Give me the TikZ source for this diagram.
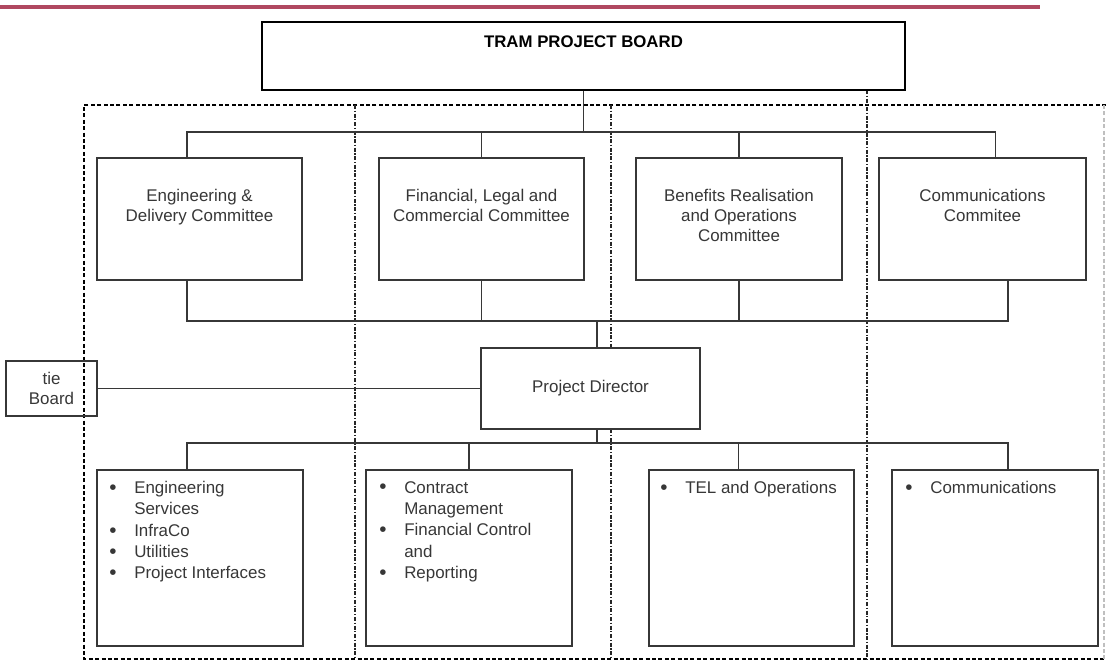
\documentclass[tikz,border=0pt]{standalone}
\usepackage{fontspec}
\setmainfont{Liberation Sans}
\usepackage{xcolor}
\usetikzlibrary{positioning}
\definecolor{rulered}{RGB}{176,72,96}
\definecolor{ink}{RGB}{55,55,55}
\tikzstyle{box}=[rectangle, draw=ink, line width=0.9pt, inner sep=0pt]
\tikzstyle{txt}=[inner sep=0pt, text=ink, font=\fontsize{12.7}{15}\selectfont, align=center]
\tikzstyle{lst}=[inner sep=0pt, text=ink, font=\fontsize{12.7}{16}\selectfont, align=left, anchor=north west]
\tikzstyle{wire}=[draw=ink, line width=0.8pt]
\tikzstyle{zone}=[draw=black, line width=0.9pt, dash pattern=on 3pt off 1.8pt]
\tikzstyle{split}=[draw=black!85, line width=0.9pt, dash pattern=on 3pt off 1.2pt on 1pt off 1.2pt]
\newcommand{\bitem}{\makebox[18.75pt][l]{\raisebox{-0.6pt}{\fontsize{15.5}{16}\selectfont\textbullet}}}
\newcommand{\bcont}{\hspace*{18.75pt}}

\begin{document}
\begin{tikzpicture}[x=0.75pt, y=-0.75pt]
\useasboundingbox (0,0) rectangle (1106,670);
\draw[rulered, line width=2.4pt] (0,7) -- (1040,7);

% dashed zones
\draw[zone] (1106,105) -| (84,659) -- (1106,659);
\draw[zone, draw=black!25] (1104,105) -- (1104,659);
\foreach \sx/\sy in {355/105,611/105,867/90}
  \draw[split] (\sx,\sy) -- (\sx,659);

% board
\node[box, fill=white, draw=black, line width=1.1pt, minimum width=482.25pt, minimum height=51pt] (board) at (583.5,56) {};
\node[txt, font=\fontsize{12.6}{15}\selectfont\bfseries, text=black, anchor=north] (boardt) at (583.5,36) {TRAM PROJECT BOARD};

% committees
\node[box, fill=white, minimum width=153.75pt, minimum height=91.5pt] (c1) at (199.5,219) {};
\node[box, fill=white, minimum width=153.75pt, minimum height=91.5pt] (c2) at (481.5,219) {};
\node[box, fill=white, minimum width=154.5pt, minimum height=91.5pt] (c3) at (739,219) {};
\node[box, fill=white, minimum width=155.25pt, minimum height=91.5pt] (c4) at (982.5,219) {};
\node[txt, anchor=north] (c1t) at (199.5,189) {Engineering \&\\Delivery Committee};
\node[txt, anchor=north] (c2t) at (481.5,189) {Financial, Legal and\\Commercial Committee};
\node[txt, anchor=north] (c3t) at (739,189) {Benefits Realisation\\and Operations\\Committee};
\node[txt, anchor=north] (c4t) at (982.5,189) {Communications\\Commitee};

% director and tie board
\node[box, fill=white, txt, minimum width=164.25pt, minimum height=60.75pt] (pd) at (590.5,388.5) {Project Director};
\node[box, txt, minimum width=68.25pt, minimum height=41.25pt] (tie) at (51.5,388.5) {tie\\Board};

% work streams
\node[box, minimum width=154.5pt, minimum height=132pt] (b1) at (200,558) {};
\node[box, minimum width=154.5pt, minimum height=132pt] (b2) at (469,558) {};
\node[box, minimum width=153.75pt, minimum height=132pt] (b3) at (751.5,558) {};
\node[box, minimum width=154.5pt, minimum height=132pt] (b4) at (995,558) {};
\node[lst] (b1l) at (109,481) {\bitem Engineering\\\bcont Services\\\bitem InfraCo\\\bitem Utilities\\\bitem Project Interfaces};
\node[lst] (b2l) at (379,481) {\bitem Contract\\\bcont Management\\\bitem Financial Control\\\bcont and\\\bitem Reporting};
\node[lst] (b3l) at (660,481) {\bitem TEL and Operations};
\node[lst] (b4l) at (905,481) {\bitem Communications};

% connectors
\coordinate (topbus) at (583.5,132);
\coordinate (c1in) at ([xshift=-9.4pt]c1.north);
\coordinate (c4in) at ([xshift=9.4pt]c4.north);
\draw[wire] (board.south) -- (topbus);
\draw[wire] (c1in) |- (topbus) -| (c4in);
\draw[wire] (c2.north) -- (c2.north |- topbus);
\draw[wire] (c3.north) -- (c3.north |- topbus);

\coordinate (midbus) at (597,321);
\coordinate (c1out) at ([xshift=-9.4pt]c1.south);
\coordinate (c4out) at ([xshift=19.1pt]c4.south);
\draw[wire] (c1out) |- (midbus) -| (c4out);
\draw[wire] (c2.south) -- (c2.south |- midbus);
\draw[wire] (c3.south) -- (c3.south |- midbus);
\draw[wire] (midbus) -- (midbus |- pd.north);
\draw[wire] (tie.east) -- (pd.west);

\coordinate (lowbus) at (597,443);
\coordinate (b1in) at ([xshift=-9.75pt]b1.north);
\coordinate (b3in) at ([xshift=-10.1pt]b3.north);
\coordinate (b4in) at ([xshift=9.75pt]b4.north);
\draw[wire] (midbus |- pd.south) -- (lowbus);
\draw[wire] (b1in) |- (lowbus) -| (b4in);
\draw[wire] (b2.north) -- (b2.north |- lowbus);
\draw[wire] (b3in) -- (b3in |- lowbus);
\end{tikzpicture}
\end{document}
